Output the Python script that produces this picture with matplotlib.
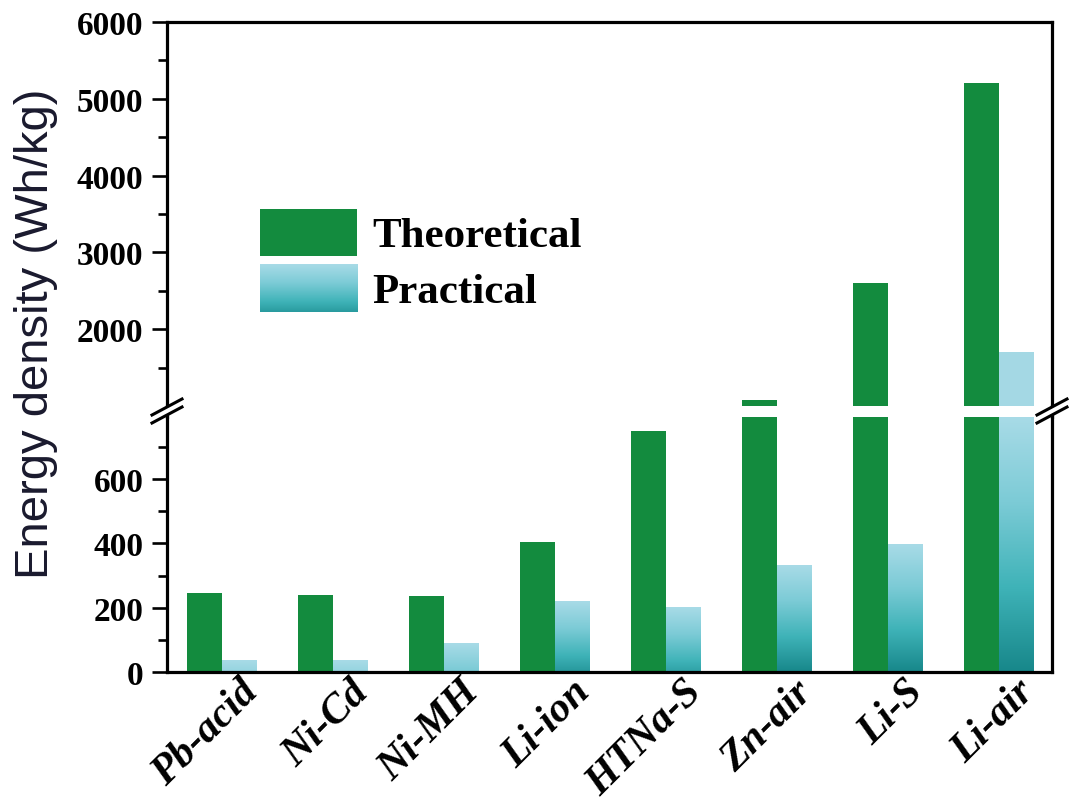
import numpy as np
import matplotlib
matplotlib.use("Agg")
import matplotlib.pyplot as plt
from matplotlib.colors import LinearSegmentedColormap
from matplotlib.patches import Rectangle
from matplotlib.lines import Line2D
import matplotlib.transforms as mtransforms

labels = ['Pb-acid', 'Ni-Cd', 'Ni-MH', 'Li-ion', 'HTNa-S', 'Zn-air', 'Li-S', 'Li-air']
theoretical = [245, 240, 235, 405, 750, 1080, 2600, 5200]
practical = [37, 37, 90, 218, 200, 330, 395, 1700]

low_lim = (0, 793)
high_lim = (1000, 6000)

green = '#138b3e'
light_cyan = '#a4d8e4'
cyan_map = LinearSegmentedColormap.from_list(
    'prac', ['#17878a', '#3fb3b8', '#7ccbd6', '#a8dbe7'])

W, H = 1074, 812
fig = plt.figure(figsize=(W / 100, H / 100), dpi=100)


def fx(px):
    return px / W


def fy(py):
    return 1 - py / H


left, right = 167, 1052
ax_top = fig.add_axes([fx(left), fy(407), fx(right - left), fy(23) - fy(407)])
ax_bot = fig.add_axes([fx(left), fy(673), fx(right - left), fy(418) - fy(673)])

x = np.arange(len(labels))
w = 0.315
off = 0.158

for ax in (ax_top, ax_bot):
    ax.bar(x - off, theoretical, width=w, color=green, linewidth=0, zorder=2)

# practical bars: gradient in the lower part, flat light colour above the break
for xi, v in zip(x, practical):
    h = min(v, low_lim[1])
    bottom_val = 1 - h / max(h, 250)
    grad = np.linspace(1, bottom_val, 256).reshape(-1, 1)
    ax_bot.imshow(grad, extent=(xi + off - w / 2, xi + off + w / 2, 0, h),
                  origin='upper', aspect='auto', cmap=cyan_map, vmin=0, vmax=1,
                  interpolation='bilinear', zorder=2)
    if v > high_lim[0]:
        ax_top.bar(xi + off, v - high_lim[0], bottom=high_lim[0], width=w,
                   color=light_cyan, linewidth=0, zorder=2)

serif = 'Liberation Serif'
ax_top.set_yticks([2000, 3000, 4000, 5000, 6000])
ax_top.set_yticks([1500, 2500, 3500, 4500, 5500], minor=True)
ax_bot.set_yticks([0, 200, 400, 600])
ax_bot.set_yticks([100, 300, 500, 700], minor=True)

for ax, lim in [(ax_top, high_lim), (ax_bot, low_lim)]:
    ax.set_xlim(-0.495, 7.48)
    ax.set_ylim(*lim)
    for s in ax.spines.values():
        s.set_linewidth(2.3)
    ax.tick_params(axis='y', direction='out', length=11, width=1.9, pad=6,
                   labelsize=24, right=False)
    ax.tick_params(axis='y', which='minor', direction='out', length=6.5, width=1.9)
    for t in ax.get_yticklabels():
        t.set_fontfamily(serif)
        t.set_fontweight('bold')

ax_top.spines['bottom'].set_visible(False)
ax_bot.spines['top'].set_visible(False)
ax_top.tick_params(axis='x', bottom=False, labelbottom=False)

ax_bot.set_xticks(x)
ax_bot.set_xticklabels(labels, rotation=45, ha='right', va='center',
                       rotation_mode='anchor', fontsize=30, fontfamily=serif,
                       fontweight='bold', fontstyle='italic')
ax_bot.tick_params(axis='x', length=0, pad=10)
shift = mtransforms.ScaledTranslation(30 / 100, 0, fig.dpi_scale_trans)
for t in ax_bot.get_xticklabels():
    t.set_transform(t.get_transform() + shift)

# spine pieces across the gap and the break marks
for sx in (left, right):
    fig.add_artist(Line2D([fx(sx), fx(sx)], [fy(407), fy(418)],
                          transform=fig.transFigure, color='black', lw=2.3))
    cx, cy = sx, 412
    fig.add_artist(Line2D([fx(cx - 15), fx(cx + 15)], [fy(cy + 8), fy(cy - 8)],
                          transform=fig.transFigure, color='white', lw=6,
                          solid_capstyle='butt'))
    for d in (-4, 4):
        fig.add_artist(Line2D([fx(cx - 15), fx(cx + 15)],
                              [fy(cy + 8 + d), fy(cy - 8 + d)],
                              transform=fig.transFigure, color='black', lw=2.2))

# legend
ax_top.add_patch(Rectangle((0.105, 0.391), 0.11, 0.122, transform=ax_top.transAxes,
                           color=green, lw=0, zorder=3))
leg_grad = np.linspace(1, 0.15, 256).reshape(-1, 1)
ax_top.imshow(leg_grad, extent=(0.105, 0.215, 0.245, 0.37), transform=ax_top.transAxes,
              origin='upper', aspect='auto', cmap=cyan_map, vmin=0, vmax=1,
              interpolation='bilinear', zorder=3)
ax_top.set_xlim(-0.495, 7.48)
ax_top.set_ylim(*high_lim)
ax_top.text(0.232, 0.442, 'Theoretical', transform=ax_top.transAxes, fontsize=31,
            fontfamily=serif, fontweight='bold', va='center', ha='left')
ax_top.text(0.232, 0.297, 'Practical', transform=ax_top.transAxes, fontsize=31,
            fontfamily=serif, fontweight='bold', va='center', ha='left')

fig.text(fx(36), fy(334), 'Energy density (Wh/kg)', rotation=90, fontsize=34,
         fontfamily='Liberation Sans', color='#1a1a2e', ha='center', va='center')

fig.savefig('out.png', dpi=100)
